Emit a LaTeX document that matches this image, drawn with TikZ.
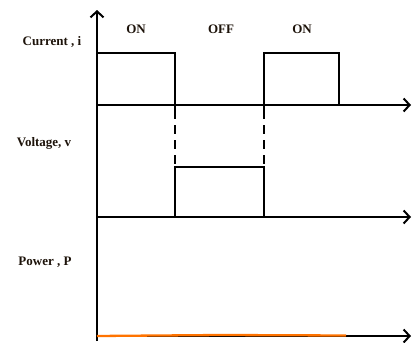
\documentclass[tikz,border=0pt]{standalone}
\usepackage{fontspec}
\setmainfont{Liberation Serif}
\usetikzlibrary{arrows.meta}
\begin{document}
\begin{tikzpicture}[x=1pt,y=-1pt,
  lbl/.style={font=\bfseries\fontsize{13}{15}\selectfont, inner sep=0pt, text=black!85!brown},
  ax/.style={line width=2.3pt, -{Straight Barb[length=6pt,width=13pt,line width=2pt]}},
  wave/.style={line width=2.3pt},
  dsh/.style={line width=2.3pt, dash pattern=on 9pt off 6pt},
  pw/.style={line width=2.3pt, draw=orange!90!red}]
\useasboundingbox (0,0) rectangle (413,343);
% axes
\coordinate (O) at (97,341);
\coordinate (Ytop) at (97,10);
\coordinate (Ci0) at (97,105);
\coordinate (Ci1) at (411,105);
\coordinate (Vo0) at (97,217);
\coordinate (Vo1) at (411,217);
\coordinate (Po0) at (97,336);
\coordinate (Po1) at (411,336);
\draw[ax] (O) -- (Ytop);
\draw[ax] (Ci0) -- (Ci1);
\draw[ax] (Vo0) -- (Vo1);
\draw[ax] (Po0) -- (Po1);
% current waveform
\coordinate (a1) at (97,53);
\coordinate (a2) at (175,53);
\coordinate (a3) at (175,110);
\coordinate (b0) at (264,110);
\coordinate (b1) at (264,53);
\coordinate (b2) at (339,53);
\coordinate (b3) at (339,105);
\draw[wave] (a1) -- (a2) -- (a3);
\draw[wave] (b0) -- (b1) -- (b2) -- (b3);
% voltage waveform
\coordinate (v0) at (175,217);
\coordinate (v1) at (175,167);
\coordinate (v2) at (264,167);
\coordinate (v3) at (264,217);
\coordinate (d1) at (175,110);
\coordinate (d2) at (264,110);
\draw[wave] (v0) -- (v1) -- (v2) -- (v3);
\draw[dsh] (d1) -- (v1);
\draw[dsh] (d2) -- (v2);
% power
\coordinate (p1) at (221,335);
\coordinate (p2) at (346,335.5);
\draw[pw] (Po0) -- (p1) -- (p2);
% labels
\node[lbl] (cur) at (52,42) {Current , i};
\node[lbl] (vol) at (44,143) {Voltage, v};
\node[lbl] (pow) at (45,262) {Power , P};
\node[lbl] (on1) at (136,29) {ON};
\node[lbl] (off) at (221,29) {OFF};
\node[lbl] (on2) at (302,29) {ON};
\end{tikzpicture}
\end{document}
